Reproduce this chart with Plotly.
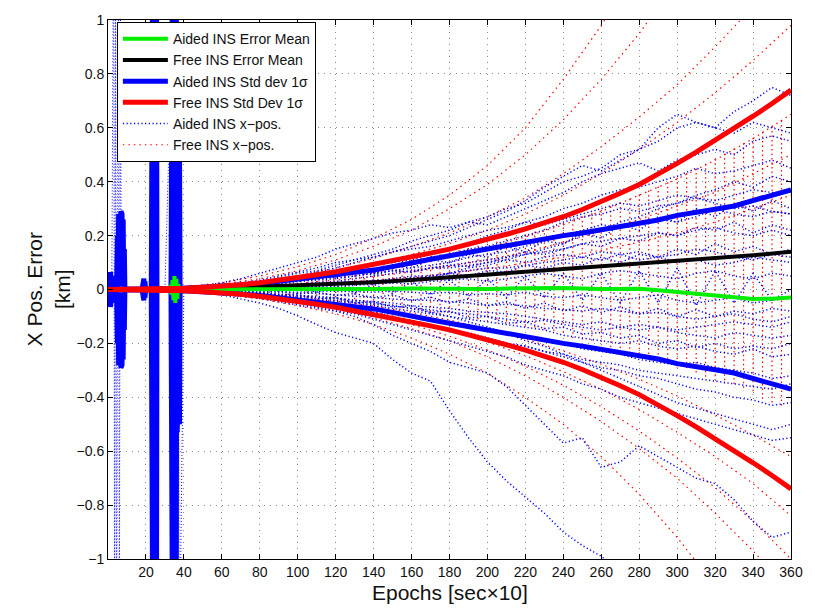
import plotly.graph_objects as go

# ---------------- data ----------------
x_ticks = [20, 40, 60, 80, 100, 120, 140, 160, 180, 200, 220, 240, 260, 280, 300, 320, 340, 360]
y_ticks = [-1, -0.8, -0.6, -0.4, -0.2, 0, 0.2, 0.4, 0.6, 0.8, 1]

# Free INS std dev (1 sigma), plotted as +/- sigma
red_std_x = [0, 10, 20, 30, 40, 50, 60, 70, 80, 90, 100, 110, 120, 130, 140, 150, 160, 170, 180, 190,
             200, 210, 220, 230, 240, 250, 260, 270, 280, 290, 300, 310, 320, 330, 340, 350, 360]
red_std_v = [0, 0.0005, 0.001, 0.003, 0.005, 0.008, 0.012, 0.018, 0.025, 0.034, 0.044, 0.055, 0.066,
             0.079, 0.092, 0.106, 0.12, 0.135, 0.15, 0.167, 0.185, 0.205, 0.225, 0.247, 0.27, 0.297,
             0.325, 0.357, 0.39, 0.427, 0.468, 0.51, 0.553, 0.597, 0.643, 0.69, 0.74]

# Aided INS std dev (1 sigma), plotted as +/- sigma (early spikes included)
blue_std_x = [0, 1.0, 1.3, 1.6, 1.9, 2.2, 2.5, 2.8, 4.5, 5.0, 5.3, 5.6, 5.9, 6.2, 6.5, 6.8, 7.1, 7.4, 7.7,
              8.0, 8.3, 8.6, 8.9, 18.0, 18.3, 18.6, 18.9, 19.2, 19.5, 19.8, 22.8, 23.1, 23.4, 23.7, 24.0,
              24.3, 24.6, 24.9, 25.2, 25.5, 25.8, 33.2, 33.5, 33.8, 34.1, 34.4, 34.7, 35.0, 35.3, 35.6,
              35.9, 36.2, 36.5, 36.8, 37.1, 37.4, 37.7, 38.0,
              40, 50, 60, 70, 80, 90, 100, 110, 120, 130, 140, 150, 160, 170, 180, 190, 200, 210, 220,
              230, 240, 250, 260, 270, 280, 290, 300, 310, 320, 330, 340, 350, 360]
blue_std_v = [0, 0.002, 0.065, 0.005, 0.06, 0.003, 0.05, 0.002, 0.002, 0.2, 0.01, 0.28, 0.02, 0.27, 0.01,
              0.29, 0.02, 0.28, 0.01, 0.26, 0.01, 0.15, 0.002, 0.002, 0.035, 0.005, 0.04, 0.003, 0.03,
              0.002, 0.002, 1.5, 0.01, 1.5, 0.02, 1.5, 0.01, 1.5, 0.01, 1.5, 0.005, 0.002, 1.5, 0.01,
              1.5, 0.02, 1.5, 0.01, 1.5, 0.02, 1.5, 0.01, 0.53, 0.02, 0.52, 0.01, 0.5, 0.004,
              0.005, 0.008, 0.012, 0.017, 0.022, 0.03, 0.04, 0.047, 0.055, 0.063, 0.072, 0.085, 0.1,
              0.112, 0.125, 0.138, 0.152, 0.162, 0.175, 0.19, 0.2, 0.21, 0.222, 0.232, 0.245, 0.258,
              0.275, 0.285, 0.298, 0.31, 0.33, 0.35, 0.37]

# Free INS error mean
black_x = [0, 20, 40, 60, 80, 100, 120, 140, 160, 180, 200, 220, 240, 260, 280, 300, 320, 340, 360]
black_v = [0, 0.0, 0.002, 0.005, 0.01, 0.016, 0.021, 0.027, 0.035, 0.045, 0.056, 0.066, 0.076, 0.086,
           0.095, 0.104, 0.115, 0.127, 0.14]

# Aided INS error mean
green_x = [0, 10, 20, 30, 32, 33, 33.5, 34, 34.5, 35, 35.5, 36, 36.5, 37, 37.5, 38, 40, 60, 80, 100,
           120, 140, 160, 180, 200, 220, 240, 260, 280, 290, 300, 310, 320, 330, 340, 350, 360]
green_v = [0, 0, 0, 0, 0, 0.015, -0.02, 0.035, -0.04, 0.05, -0.05, 0.04, -0.035, 0.02, -0.01, 0, 0,
           0.001, 0.002, 0.002, 0.0, 0.002, 0.004, 0.003, 0.002, 0.005, 0.006, 0.002, 0.003, -0.003,
           -0.01, -0.015, -0.022, -0.03, -0.035, -0.034, -0.03]

# Aided INS Monte-Carlo runs (x-pos error), sampled every 10 epochs
aided_x = [0, 10, 20, 30, 40, 50, 60, 70, 80, 90, 100, 110, 120, 130, 140, 150, 160, 170, 180, 190,
           200, 210, 220, 230, 240, 250, 260, 270, 280, 290, 300, 310, 320, 330, 340, 350, 360]
aided_runs = [
    [0, 0, 0, 0.001, 0.004, 0.008, 0.012, 0.02, 0.03, 0.045, 0.06, 0.07, 0.09, 0.11, 0.13, 0.15, 0.18, 0.2, 0.22, 0.25, 0.27, 0.3, 0.32, 0.36, 0.4, 0.42, 0.45, 0.5, 0.52, 0.55, 0.6, 0.62, 0.6, 0.66, 0.7, 0.75, 0.72],
    [0, 0, 0, 0.002, 0.006, 0.012, 0.025, 0.04, 0.06, 0.08, 0.1, 0.12, 0.15, 0.17, 0.19, 0.21, 0.22, 0.24, 0.23, 0.25, 0.24, 0.27, 0.3, 0.33, 0.36, 0.4, 0.43, 0.45, 0.47, 0.44, 0.48, 0.5, 0.52, 0.5, 0.55, 0.57, 0.55],
    [0, 0, 0, 0.001, 0.003, 0.006, 0.01, 0.015, 0.022, 0.03, 0.04, 0.05, 0.06, 0.075, 0.09, 0.1, 0.11, 0.13, 0.15, 0.17, 0.2, 0.22, 0.25, 0.27, 0.3, 0.32, 0.35, 0.37, 0.38, 0.4, 0.42, 0.45, 0.43, 0.44, 0.46, 0.48, 0.45],
    [0, 0, 0, 0.001, 0.002, 0.004, 0.008, 0.012, 0.018, 0.025, 0.035, 0.045, 0.055, 0.06, 0.07, 0.085, 0.1, 0.12, 0.13, 0.15, 0.16, 0.18, 0.2, 0.22, 0.25, 0.27, 0.28, 0.3, 0.29, 0.31, 0.32, 0.34, 0.33, 0.35, 0.37, 0.36, 0.36],
    [0, 0, 0, 0, 0.002, 0.003, 0.006, 0.01, 0.015, 0.02, 0.03, 0.035, 0.04, 0.05, 0.06, 0.07, 0.08, 0.09, 0.1, 0.12, 0.13, 0.14, 0.16, 0.18, 0.2, 0.22, 0.24, 0.23, 0.25, 0.26, 0.25, 0.27, 0.3, 0.28, 0.27, 0.29, 0.28],
    [0, 0, 0, 0.001, 0.001, 0.002, 0.004, 0.007, 0.01, 0.015, 0.02, 0.025, 0.03, 0.04, 0.05, 0.06, 0.07, 0.08, 0.08, 0.09, 0.1, 0.12, 0.13, 0.14, 0.15, 0.17, 0.18, 0.19, 0.2, 0.21, 0.2, 0.22, 0.23, 0.21, 0.2, 0.22, 0.2],
    [0, 0, 0, 0, 0.001, 0.002, 0.003, 0.005, 0.007, 0.01, 0.015, 0.02, 0.025, 0.03, 0.03, 0.04, 0.05, 0.05, 0.06, 0.07, 0.08, 0.08, 0.09, 0.1, 0.11, 0.12, 0.11, 0.13, 0.14, 0.12, 0.13, 0.15, 0.14, 0.12, 0.11, 0.13, 0.12],
    [0, 0, 0, 0, 0, 0.001, 0.002, 0.003, 0.004, 0.006, 0.008, 0.01, 0.012, 0.015, 0.02, 0.025, 0.02, 0.03, 0.035, 0.04, 0.03, 0.04, 0.05, 0.06, 0.05, 0.04, 0.06, 0.07, 0.06, 0.05, 0.04, 0.06, 0.07, 0.05, 0.04, 0.06, 0.05],
    [0, 0, 0, 0, 0, -0.001, -0.001, -0.002, -0.003, -0.004, -0.005, -0.004, -0.006, -0.008, -0.01, -0.005, -0.01, -0.015, -0.01, -0.02, -0.015, -0.02, -0.01, -0.025, -0.03, -0.02, -0.03, -0.04, -0.03, -0.02, -0.04, -0.05, -0.04, -0.03, -0.05, -0.04, -0.03],
    [0, 0, 0, 0, -0.001, -0.002, -0.003, -0.005, -0.007, -0.01, -0.012, -0.015, -0.02, -0.025, -0.03, -0.035, -0.04, -0.04, -0.045, -0.05, -0.06, -0.055, -0.06, -0.07, -0.075, -0.08, -0.07, -0.08, -0.09, -0.085, -0.1, -0.11, -0.1, -0.09, -0.11, -0.12, -0.1],
    [0, 0, 0, -0.001, -0.002, -0.004, -0.006, -0.009, -0.013, -0.018, -0.024, -0.03, -0.035, -0.04, -0.045, -0.05, -0.06, -0.065, -0.07, -0.08, -0.085, -0.09, -0.1, -0.11, -0.12, -0.13, -0.12, -0.14, -0.15, -0.14, -0.16, -0.17, -0.18, -0.16, -0.17, -0.18, -0.17],
    [0, 0, 0, -0.001, -0.002, -0.005, -0.008, -0.012, -0.017, -0.023, -0.03, -0.038, -0.045, -0.05, -0.06, -0.07, -0.08, -0.09, -0.1, -0.11, -0.12, -0.13, -0.14, -0.15, -0.17, -0.18, -0.19, -0.2, -0.19, -0.21, -0.22, -0.21, -0.23, -0.24, -0.22, -0.25, -0.24],
    [0, 0, 0, -0.001, -0.003, -0.006, -0.01, -0.015, -0.02, -0.03, -0.04, -0.05, -0.055, -0.06, -0.07, -0.085, -0.1, -0.11, -0.12, -0.13, -0.15, -0.16, -0.18, -0.19, -0.2, -0.22, -0.23, -0.24, -0.26, -0.27, -0.28, -0.27, -0.29, -0.3, -0.31, -0.33, -0.32],
    [0, 0, 0, -0.001, -0.004, -0.008, -0.013, -0.02, -0.028, -0.036, -0.045, -0.055, -0.065, -0.075, -0.085, -0.1, -0.12, -0.13, -0.15, -0.16, -0.18, -0.2, -0.21, -0.23, -0.25, -0.27, -0.29, -0.3, -0.32, -0.33, -0.35, -0.37, -0.38, -0.4, -0.41, -0.43, -0.42],
    [0, 0, 0, -0.002, -0.005, -0.01, -0.016, -0.024, -0.033, -0.045, -0.058, -0.07, -0.08, -0.09, -0.11, -0.13, -0.15, -0.17, -0.19, -0.21, -0.23, -0.25, -0.28, -0.3, -0.32, -0.35, -0.37, -0.4, -0.42, -0.44, -0.46, -0.48, -0.5, -0.52, -0.54, -0.56, -0.55],
    [0, 0, 0, 0, -0.005, -0.01, -0.02, -0.035, -0.05, -0.07, -0.098, -0.13, -0.16, -0.18, -0.2, -0.26, -0.31, -0.34, -0.45, -0.55, -0.64, -0.71, -0.77, -0.83, -0.9, -0.95, -0.99, -1.05, -1.1, -1.15, -1.2, -1.25, -1.3, -1.35, -1.4, -1.45, -1.5],
    [0, 0, 0, 0, -0.003, -0.006, -0.012, -0.02, -0.03, -0.04, -0.05, -0.065, -0.08, -0.1, -0.13, -0.17, -0.2, -0.23, -0.27, -0.29, -0.31, -0.36, -0.43, -0.5, -0.57, -0.55, -0.66, -0.64, -0.58, -0.62, -0.66, -0.7, -0.72, -0.78, -0.86, -0.92, -0.9],
    [0, 0, 0, 0, 0.003, 0.006, 0.01, 0.016, 0.024, 0.035, 0.05, 0.065, 0.08, 0.1, 0.12, 0.14, 0.16, 0.18, 0.2, 0.23, 0.26, 0.29, 0.33, 0.38, 0.42, 0.46, 0.44, 0.48, 0.52, 0.6, 0.65, 0.62, 0.6, 0.58, 0.62, 0.6, 0.58],
    [0, 0, 0, 0.002, 0.004, 0.01, 0.006, 0.02, 0.015, 0.035, 0.03, 0.05, 0.045, 0.07, 0.06, 0.09, 0.08, 0.11, 0.1, 0.13, 0.12, 0.16, 0.14, 0.18, 0.17, 0.21, 0.19, 0.24, 0.22, 0.27, 0.25, 0.3, 0.27, 0.32, 0.29, 0.33, 0.3],
    [0, 0, 0, 0.001, 0.003, 0.002, 0.006, 0.004, 0.01, 0.008, 0.018, 0.012, 0.025, 0.02, 0.035, 0.028, 0.045, 0.04, 0.06, 0.05, 0.07, 0.065, 0.09, 0.08, 0.1, 0.09, 0.12, 0.1, 0.13, 0.12, 0.15, 0.13, 0.17, 0.14, 0.16, 0.13, 0.15],
    [0, 0, 0, -0.001, 0.002, -0.003, 0.004, -0.005, 0.008, -0.006, 0.01, -0.01, 0.015, -0.012, 0.02, -0.015, 0.03, -0.02, 0.035, -0.025, 0.04, -0.03, 0.05, -0.03, 0.06, -0.04, 0.06, -0.05, 0.07, -0.05, 0.08, -0.06, 0.07, -0.05, 0.06, -0.04, 0.0],
    [0, 0, 0, 0, -0.002, -0.001, -0.005, -0.003, -0.01, -0.006, -0.015, -0.01, -0.022, -0.015, -0.03, -0.02, -0.04, -0.028, -0.05, -0.035, -0.06, -0.045, -0.07, -0.05, -0.08, -0.06, -0.085, -0.065, -0.09, -0.07, -0.1, -0.075, -0.1, -0.08, -0.09, -0.07, -0.08],
    [0, 0, 0, -0.001, -0.003, -0.006, -0.005, -0.012, -0.01, -0.022, -0.018, -0.035, -0.03, -0.05, -0.045, -0.065, -0.06, -0.085, -0.08, -0.105, -0.1, -0.125, -0.12, -0.145, -0.14, -0.165, -0.16, -0.18, -0.17, -0.2, -0.19, -0.215, -0.2, -0.22, -0.21, -0.22, -0.2],
    [0, 0, 0, -0.001, -0.004, -0.008, -0.01, -0.018, -0.02, -0.035, -0.04, -0.06, -0.065, -0.08, -0.09, -0.11, -0.12, -0.14, -0.15, -0.17, -0.18, -0.2, -0.21, -0.23, -0.24, -0.26, -0.27, -0.28, -0.3, -0.31, -0.32, -0.33, -0.34, -0.35, -0.36, -0.37, -0.35],
    [0, 0, 0, 0, 0.001, 0.002, 0.004, 0.003, 0.008, 0.006, 0.012, 0.01, 0.02, 0.018, 0.03, 0.025, 0.04, 0.05, 0.06, 0.08, 0.09, 0.11, 0.13, 0.15, 0.17, 0.2, 0.22, 0.25, 0.27, 0.3, 0.32, 0.35, 0.37, 0.4, 0.38, 0.42, 0.4],
    [0, 0, 0, 0.001, 0.003, 0.008, 0.01, 0.018, 0.022, 0.03, 0.035, 0.045, 0.05, 0.06, 0.055, 0.07, 0.065, 0.08, 0.09, 0.1, 0.11, 0.12, 0.14, 0.13, 0.15, 0.17, 0.16, 0.19, 0.18, 0.21, 0.2, 0.23, 0.22, 0.25, 0.21, 0.24, 0.22],
    [0, 0, 0, 0, -0.001, -0.003, -0.005, -0.008, -0.012, -0.016, -0.02, -0.025, -0.03, -0.04, -0.05, -0.06, -0.07, -0.085, -0.1, -0.12, -0.14, -0.16, -0.19, -0.21, -0.24, -0.27, -0.3, -0.33, -0.36, -0.39, -0.42, -0.44, -0.46, -0.48, -0.5, -0.52, -0.5],
    [0, 0, 0, 0.001, 0.002, 0.004, 0.008, 0.012, 0.016, 0.022, 0.03, 0.038, 0.045, 0.05, 0.06, 0.07, 0.065, 0.08, 0.09, 0.085, 0.1, 0.11, 0.1, 0.12, 0.13, 0.12, 0.14, 0.13, 0.11, 0.12, 0.1, 0.11, 0.09, 0.1, 0.12, 0.11, 0.1],
    [0, 0, 0, -0.001, -0.003, -0.004, -0.008, -0.01, -0.015, -0.02, -0.025, -0.03, -0.04, -0.045, -0.055, -0.06, -0.07, -0.075, -0.085, -0.09, -0.1, -0.11, -0.12, -0.115, -0.13, -0.14, -0.15, -0.14, -0.13, -0.14, -0.15, -0.14, -0.13, -0.12, -0.13, -0.14, -0.12],
    [0, 0, 0, 0.002, 0.005, 0.01, 0.015, 0.025, 0.035, 0.05, 0.065, 0.08, 0.1, 0.11, 0.12, 0.14, 0.15, 0.16, 0.18, 0.2, 0.22, 0.23, 0.25, 0.24, 0.26, 0.28, 0.3, 0.32, 0.31, 0.33, 0.35, 0.34, 0.32, 0.3, 0.31, 0.29, 0.28],
]
# early aided-run excursions during outages
aided_spike_x = [0, 2.0, 3.0, 3.5, 4.0, 4.5, 5.5, 6.0, 6.5, 7.0, 30, 36.0, 36.5, 37.0, 37.5, 40]
aided_spike_v = [0, 0, 1.5, -1.5, 1.5, -1.5, 1.5, -1.5, 1.2, 0, 0, 1.5, -1.5, 1.5, -1.5, 0]

# Free INS Monte-Carlo runs (x-pos error), sampled every 20 epochs
free_x = [0, 20, 40, 60, 80, 100, 120, 140, 160, 180, 200, 220, 240, 260, 280, 300, 320, 340, 360]
free_runs = [
    [0, 0.002, 0.01, 0.025, 0.05, 0.085, 0.13, 0.19, 0.26, 0.35, 0.46, 0.6, 0.78, 0.98, 1.2, 1.45, 1.7, 2.0, 2.3],
    [0, 0.002, 0.008, 0.02, 0.04, 0.07, 0.11, 0.16, 0.22, 0.3, 0.39, 0.5, 0.63, 0.78, 0.95, 1.15, 1.37, 1.6, 1.85],
    [0, 0.001, 0.006, 0.015, 0.03, 0.05, 0.08, 0.115, 0.16, 0.21, 0.27, 0.34, 0.43, 0.53, 0.64, 0.76, 0.9, 1.05, 1.22],
    [0, 0.001, 0.005, 0.012, 0.024, 0.04, 0.064, 0.093, 0.13, 0.17, 0.22, 0.28, 0.35, 0.43, 0.52, 0.62, 0.73, 0.85, 0.98],
    [0, 0.001, 0.004, 0.01, 0.019, 0.031, 0.047, 0.067, 0.091, 0.12, 0.155, 0.195, 0.24, 0.29, 0.35, 0.41, 0.48, 0.56, 0.65],
    [0, 0.001, 0.003, 0.007, 0.013, 0.022, 0.034, 0.048, 0.065, 0.086, 0.11, 0.14, 0.175, 0.215, 0.26, 0.31, 0.36, 0.43, 0.5],
    [0, 0, 0.002, 0.005, 0.01, 0.016, 0.024, 0.034, 0.046, 0.061, 0.078, 0.098, 0.12, 0.146, 0.176, 0.21, 0.25, 0.3, 0.35],
    [0, -0.002, -0.008, -0.018, -0.035, -0.06, -0.09, -0.13, -0.18, -0.24, -0.31, -0.4, -0.5, -0.62, -0.76, -0.92, -1.1, -1.3, -1.5],
    [0, -0.001, -0.006, -0.014, -0.028, -0.047, -0.072, -0.104, -0.145, -0.19, -0.25, -0.32, -0.4, -0.49, -0.59, -0.7, -0.83, -0.97, -1.12],
    [0, -0.001, -0.005, -0.012, -0.023, -0.038, -0.058, -0.083, -0.113, -0.15, -0.195, -0.245, -0.305, -0.37, -0.445, -0.53, -0.62, -0.72, -0.84],
    [0, -0.001, -0.004, -0.009, -0.017, -0.028, -0.043, -0.062, -0.085, -0.113, -0.146, -0.184, -0.228, -0.277, -0.333, -0.395, -0.465, -0.54, -0.62],
    [0, -0.001, -0.005, -0.013, -0.026, -0.043, -0.066, -0.095, -0.13, -0.173, -0.224, -0.285, -0.355, -0.435, -0.525, -0.625, -0.735, -0.86, -1.0],
]

# vertical red sample columns of the Free INS runs
col_x = [40, 45, 50, 55, 60, 65, 70, 75, 80, 85, 90, 95, 100, 105, 110, 115, 120, 125, 130, 135, 140,
         145, 150, 155, 160, 165, 170, 175, 180, 185, 190, 195, 200, 205, 210, 215, 220, 225, 230, 235,
         240, 245, 250, 255, 260, 265, 270, 275, 280, 285, 290, 295, 300, 305, 310, 315, 320, 325, 330,
         335, 340, 345, 350, 355]
col_top = [0.005, 0.006, 0.008, 0.010, 0.012, 0.014, 0.017, 0.020, 0.023, 0.027, 0.031, 0.035, 0.040,
           0.044, 0.049, 0.054, 0.059, 0.064, 0.070, 0.076, 0.082, 0.089, 0.096, 0.103, 0.109, 0.116,
           0.123, 0.131, 0.138, 0.146, 0.154, 0.162, 0.170, 0.178, 0.187, 0.196, 0.205, 0.215, 0.225,
           0.236, 0.247, 0.259, 0.271, 0.283, 0.296, 0.309, 0.323, 0.337, 0.352, 0.367, 0.382, 0.398,
           0.415, 0.432, 0.449, 0.467, 0.485, 0.504, 0.523, 0.543, 0.563, 0.584, 0.605, 0.627]
col_bot = [-0.004, -0.005, -0.006, -0.008, -0.009, -0.011, -0.013, -0.015, -0.017, -0.020, -0.023,
           -0.026, -0.029, -0.032, -0.035, -0.038, -0.042, -0.045, -0.049, -0.053, -0.057, -0.062,
           -0.066, -0.071, -0.076, -0.081, -0.086, -0.091, -0.096, -0.102, -0.108, -0.114, -0.119,
           -0.125, -0.131, -0.138, -0.144, -0.151, -0.158, -0.165, -0.172, -0.180, -0.188, -0.197,
           -0.206, -0.215, -0.225, -0.235, -0.245, -0.256, -0.267, -0.278, -0.289, -0.300, -0.312,
           -0.324, -0.337, -0.350, -0.363, -0.377, -0.391, -0.405, -0.420, -0.435]

# ---------------- figure ----------------
BLUE, RED, GREEN, BLACK = "#0000ff", "#ff0000", "#00ee00", "#000000"
FONT = "Liberation Sans, Arial, Helvetica, sans-serif"

fig = go.Figure()

cx, cy = [], []
for xv, t, b in zip(col_x, col_top, col_bot):
    cx += [xv, xv, None]
    cy += [t, b, None]
fig.add_trace(go.Scatter(x=cx, y=cy, mode="lines",
                         line=dict(color=RED, width=1.2, dash="1.5px,3px"),
                         legendgroup="free", showlegend=False, hoverinfo="skip"))

for i, run in enumerate(free_runs):
    fig.add_trace(go.Scatter(x=free_x, y=run, mode="lines",
                             line=dict(color=RED, width=1.2, dash="1.5px,4px"),
                             name="Free INS x\u2212pos.", legendgroup="free",
                             showlegend=(i == 0), legendrank=6, hoverinfo="skip"))

for i, run in enumerate(aided_runs):
    fig.add_trace(go.Scatter(x=aided_x, y=run, mode="lines",
                             line=dict(color=BLUE, width=1.5, dash="1.2px,2.5px"),
                             name="Aided INS x\u2212pos.", legendgroup="aided",
                             showlegend=(i == 0), legendrank=5, hoverinfo="skip"))
fig.add_trace(go.Scatter(x=aided_spike_x, y=aided_spike_v, mode="lines",
                         line=dict(color=BLUE, width=1, dash="1px,2px"),
                         legendgroup="aided", showlegend=False, hoverinfo="skip"))

fig.add_trace(go.Scatter(x=blue_std_x, y=blue_std_v, mode="lines",
                         line=dict(color=BLUE, width=5),
                         name="Aided INS Std dev 1\u03c3", legendgroup="bstd",
                         legendrank=3, hoverinfo="skip"))
fig.add_trace(go.Scatter(x=blue_std_x, y=[-v for v in blue_std_v], mode="lines",
                         line=dict(color=BLUE, width=5), legendgroup="bstd",
                         showlegend=False, hoverinfo="skip"))

fig.add_trace(go.Scatter(x=black_x, y=black_v, mode="lines",
                         line=dict(color=BLACK, width=4),
                         name="Free INS Error Mean", legendrank=2, hoverinfo="skip"))

fig.add_trace(go.Scatter(x=green_x, y=green_v, mode="lines",
                         line=dict(color=GREEN, width=4),
                         name="Aided INS Error Mean", legendrank=1, hoverinfo="skip"))

fig.add_trace(go.Scatter(x=red_std_x, y=red_std_v, mode="lines",
                         line=dict(color=RED, width=5),
                         name="Free INS Std Dev 1\u03c3", legendgroup="rstd",
                         legendrank=4, hoverinfo="skip"))
fig.add_trace(go.Scatter(x=red_std_x, y=[-v for v in red_std_v], mode="lines",
                         line=dict(color=RED, width=5), legendgroup="rstd",
                         showlegend=False, hoverinfo="skip"))

axis_common = dict(showline=True, linecolor="black", linewidth=1, mirror="allticks",
                   ticks="inside", ticklen=5, tickcolor="black", showgrid=True,
                   gridcolor="#8c8c8c", griddash="1px,5px", gridwidth=1, zeroline=False,
                   tickfont=dict(family=FONT, size=14, color="#111"))

fig.update_layout(
    width=815, height=610,
    margin=dict(l=108, r=13, t=13, b=51),
    paper_bgcolor="white", plot_bgcolor="white",
    font=dict(family=FONT, color="#111"),
    xaxis=dict(range=[0, 360], tickvals=x_ticks, **axis_common),
    yaxis=dict(range=[-1, 1], tickvals=y_ticks, **axis_common),
    legend=dict(x=0.013, y=0.996, xanchor="left", yanchor="top",
                bgcolor="white", bordercolor="black", borderwidth=1,
                font=dict(family=FONT, size=14, color="#111"),
                tracegroupgap=0, traceorder="normal", itemwidth=45),
    showlegend=True,
    annotations=[
        dict(text="Epochs [sec\u00d710]", xref="paper", yref="paper", x=0.5, y=-0.062,
             xanchor="center", yanchor="middle", showarrow=False,
             font=dict(family=FONT, size=21, color="#111")),
        dict(text="X Pos. Error<br>[km]", xref="paper", yref="paper", x=-0.088, y=0.5,
             xanchor="center", yanchor="middle", showarrow=False, textangle=-90,
             font=dict(family=FONT, size=21, color="#111")),
    ],
)

fig.write_html("out.html", config={"displayModeBar": False})
